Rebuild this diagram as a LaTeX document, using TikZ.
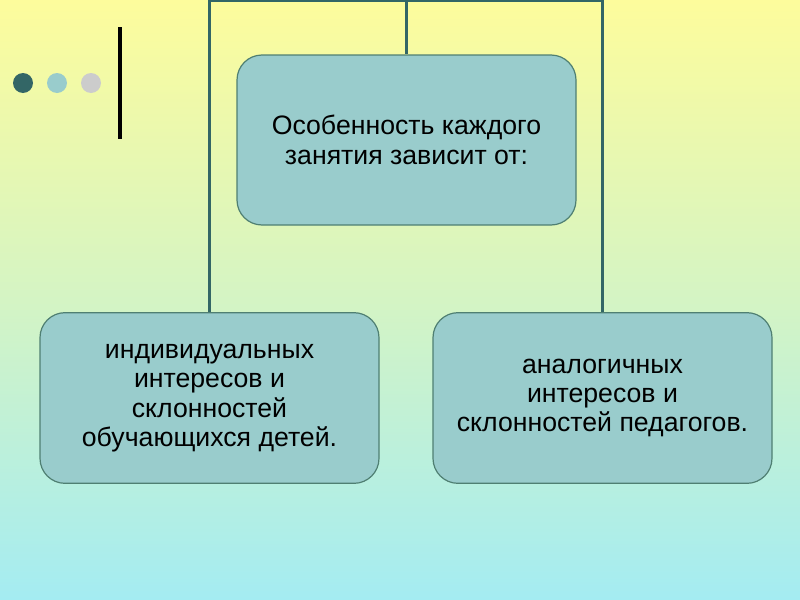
\documentclass[tikz,border=0pt]{standalone}
\usepackage{fontspec}
\setmainfont{Liberation Sans}
\definecolor{bgtop}{HTML}{FDFC9C}
\definecolor{bgmid}{HTML}{D4F4C4}
\definecolor{bgbot}{HTML}{A4ECF2}
\definecolor{boxfill}{HTML}{99CCCC}
\definecolor{boxline}{HTML}{4F7F72}
\definecolor{conn}{HTML}{336666}
\definecolor{dotA}{HTML}{336666}
\definecolor{dotB}{HTML}{99CCCC}
\definecolor{dotC}{HTML}{CCCCCC}
\tikzset{
  card/.style={draw=boxline, line width=0.9pt, fill=boxfill, rounded corners=18.75pt,
    minimum width=254.25pt, minimum height=128pt, align=center, text=black,
    font=\fontsize{20pt}{22pt}\selectfont, inner sep=0pt},
  link/.style={draw=conn, line width=1.6pt},
  dot/.style={circle, inner sep=0pt, minimum size=15pt}
}
\begin{document}
\begin{tikzpicture}[x=0.75pt, y=-0.75pt]
\shade[top color=bgtop, bottom color=bgbot, middle color=bgmid] (0,0) rectangle (800,600);
\useasboundingbox (0,0) rectangle (800,600);
\node[dot, fill=dotA] (d1) at (23,83) {};
\node[dot, fill=dotB] (d2) at (57,83) {};
\node[dot, fill=dotC] (d3) at (91,83) {};
\coordinate (b1) at (120,27);
\coordinate (b2) at (120,139);
\draw[line width=3pt, black] (b1) -- (b2);
\node[card, minimum height=127.5pt] (T) at (406.5,140) {Особенность каждого\\занятия зависит от:};
\node[card] (L) at (209.5,398) {индивидуальных\\интересов и\\склонностей\\обучающихся детей.};
\node[card] (R) at (602.5,398) {аналогичных\\интересов и\\склонностей педагогов.};
\coordinate (top) at (406.5,1);
\draw[link] (L.north) |- (top) -| (R.north);
\draw[link] (top) -- (T.north);
\end{tikzpicture}
\end{document}
